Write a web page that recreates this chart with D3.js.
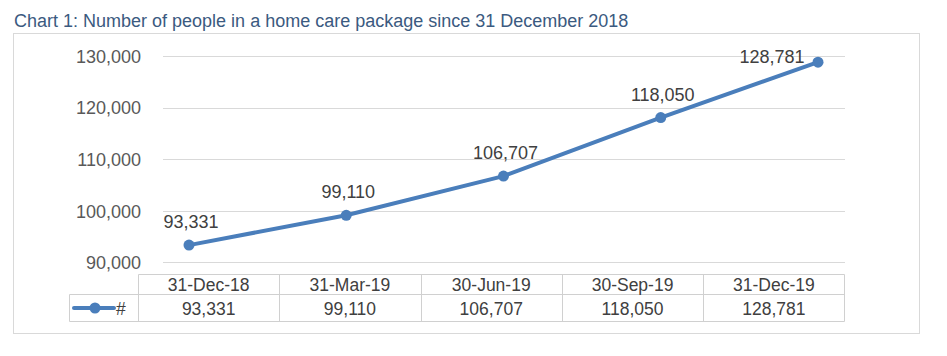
<!DOCTYPE html>
<html><head><meta charset="utf-8">
<script src="https://cdn.jsdelivr.net/npm/d3@7"></script>
<style>body{margin:0;background:#fff;}svg{display:block;font-family:"Liberation Sans",Arial,sans-serif;}</style>
</head><body><svg id="c" width="947" height="356"></svg>
<script>
const categories = ["31-Dec-18","31-Mar-19","30-Jun-19","30-Sep-19","31-Dec-19"];
const values = [93331, 99110, 106707, 118050, 128781];
const yTicks = [90000, 100000, 110000, 120000, 130000];
const seriesName = "#";
const title = "Chart 1: Number of people in a home care package since 31 December 2018";

const svg = d3.select("#c");
const fmt = d3.format(",");
const lineColor = "#4a7ebb";
const textColor = "#404040";

svg.append("text").attr("x", 14).attr("y", 27).attr("font-size", 18)
  .attr("fill", "#3b5a80").text(title);

svg.append("rect").attr("x", 13.5).attr("y", 33.5).attr("width", 906).attr("height", 300)
  .attr("fill", "none").attr("stroke", "#d9d9d9");

const y = d3.scaleLinear().domain([90000, 130000]).range([262.3, 55.9]);
const x = d3.scalePoint().domain(categories).range([189, 818]);
const xb = d3.scaleBand().domain(categories).range([138, 844.5]);

// gridlines
svg.append("g").selectAll("line").data(yTicks).join("line")
  .attr("x1", 163).attr("x2", 845)
  .attr("y1", d => Math.round(y(d)) + 0.5).attr("y2", d => Math.round(y(d)) + 0.5)
  .attr("stroke", "#d9d9d9").attr("stroke-width", 1);

// y axis labels
const yAxis = d3.axisLeft(y).tickValues(yTicks).tickFormat(fmt).tickSize(0).tickPadding(0);
const ga = svg.append("g").attr("transform", "translate(141,0)").call(yAxis);
ga.select(".domain").remove();
ga.selectAll("text").attr("font-size", 18).attr("fill", "#595959")
  .attr("font-family", '"Liberation Sans",Arial,sans-serif').attr("dy", "0.36em");

// line
const line = d3.line().x((d, i) => x(categories[i])).y(d => y(d));
svg.append("path").datum(values).attr("d", line).attr("fill", "none")
  .attr("stroke", lineColor).attr("stroke-width", 4).attr("stroke-linejoin", "round").attr("stroke-linecap", "round");
svg.append("g").selectAll("circle").data(values).join("circle")
  .attr("cx", (d, i) => x(categories[i])).attr("cy", d => y(d)).attr("r", 5.5).attr("fill", lineColor);

// data labels
svg.append("g").selectAll("text").data(values).join("text")
  .attr("x", (d, i) => i === values.length - 1 ? x(categories[i]) - 46 : x(categories[i]) + 2)
  .attr("y", (d, i) => i === values.length - 1 ? y(d) + 1 : y(d) - 17)
  .attr("text-anchor", "middle").attr("font-size", 18).attr("fill", textColor)
  .text(d => fmt(d));

// data table
const tg = svg.append("g");
const r0 = 274.5, r1 = 294.5, r2 = 321.5;
const border = "#d0d0d0";
tg.append("line").attr("x1", 138.5).attr("x2", 844.5).attr("y1", r0).attr("y2", r0).attr("stroke", border);
tg.append("line").attr("x1", 69.5).attr("x2", 844.5).attr("y1", r1).attr("y2", r1).attr("stroke", border);
tg.append("line").attr("x1", 69.5).attr("x2", 844.5).attr("y1", r2).attr("y2", r2).attr("stroke", border);
tg.append("line").attr("x1", 69.5).attr("x2", 69.5).attr("y1", r1).attr("y2", r2).attr("stroke", border);
const edges = categories.map(c => Math.round(xb(c)) + 0.5).concat([844.5]);
tg.selectAll("line.v").data(edges).join("line").attr("class", "v")
  .attr("x1", d => d).attr("x2", d => d).attr("y1", r0).attr("y2", r2).attr("stroke", border);
tg.selectAll("text.h").data(categories).join("text").attr("class", "h")
  .attr("x", d => xb(d) + xb.bandwidth() / 2).attr("y", 291)
  .attr("text-anchor", "middle").attr("font-size", 17.5).attr("fill", textColor).text(d => d);
tg.selectAll("text.v").data(values).join("text").attr("class", "v")
  .attr("x", (d, i) => xb(categories[i]) + xb.bandwidth() / 2).attr("y", 314.5)
  .attr("text-anchor", "middle").attr("font-size", 17.5).attr("fill", textColor).text(d => fmt(d));
// legend key
tg.append("line").attr("x1", 74).attr("x2", 114).attr("y1", 308).attr("y2", 308)
  .attr("stroke", lineColor).attr("stroke-width", 4).attr("stroke-linecap", "round");
tg.append("circle").attr("cx", 95).attr("cy", 308).attr("r", 5.5).attr("fill", lineColor);
tg.append("text").attr("x", 116).attr("y", 314.5).attr("font-size", 17.5).attr("fill", textColor).text(seriesName);
</script></body></html>
